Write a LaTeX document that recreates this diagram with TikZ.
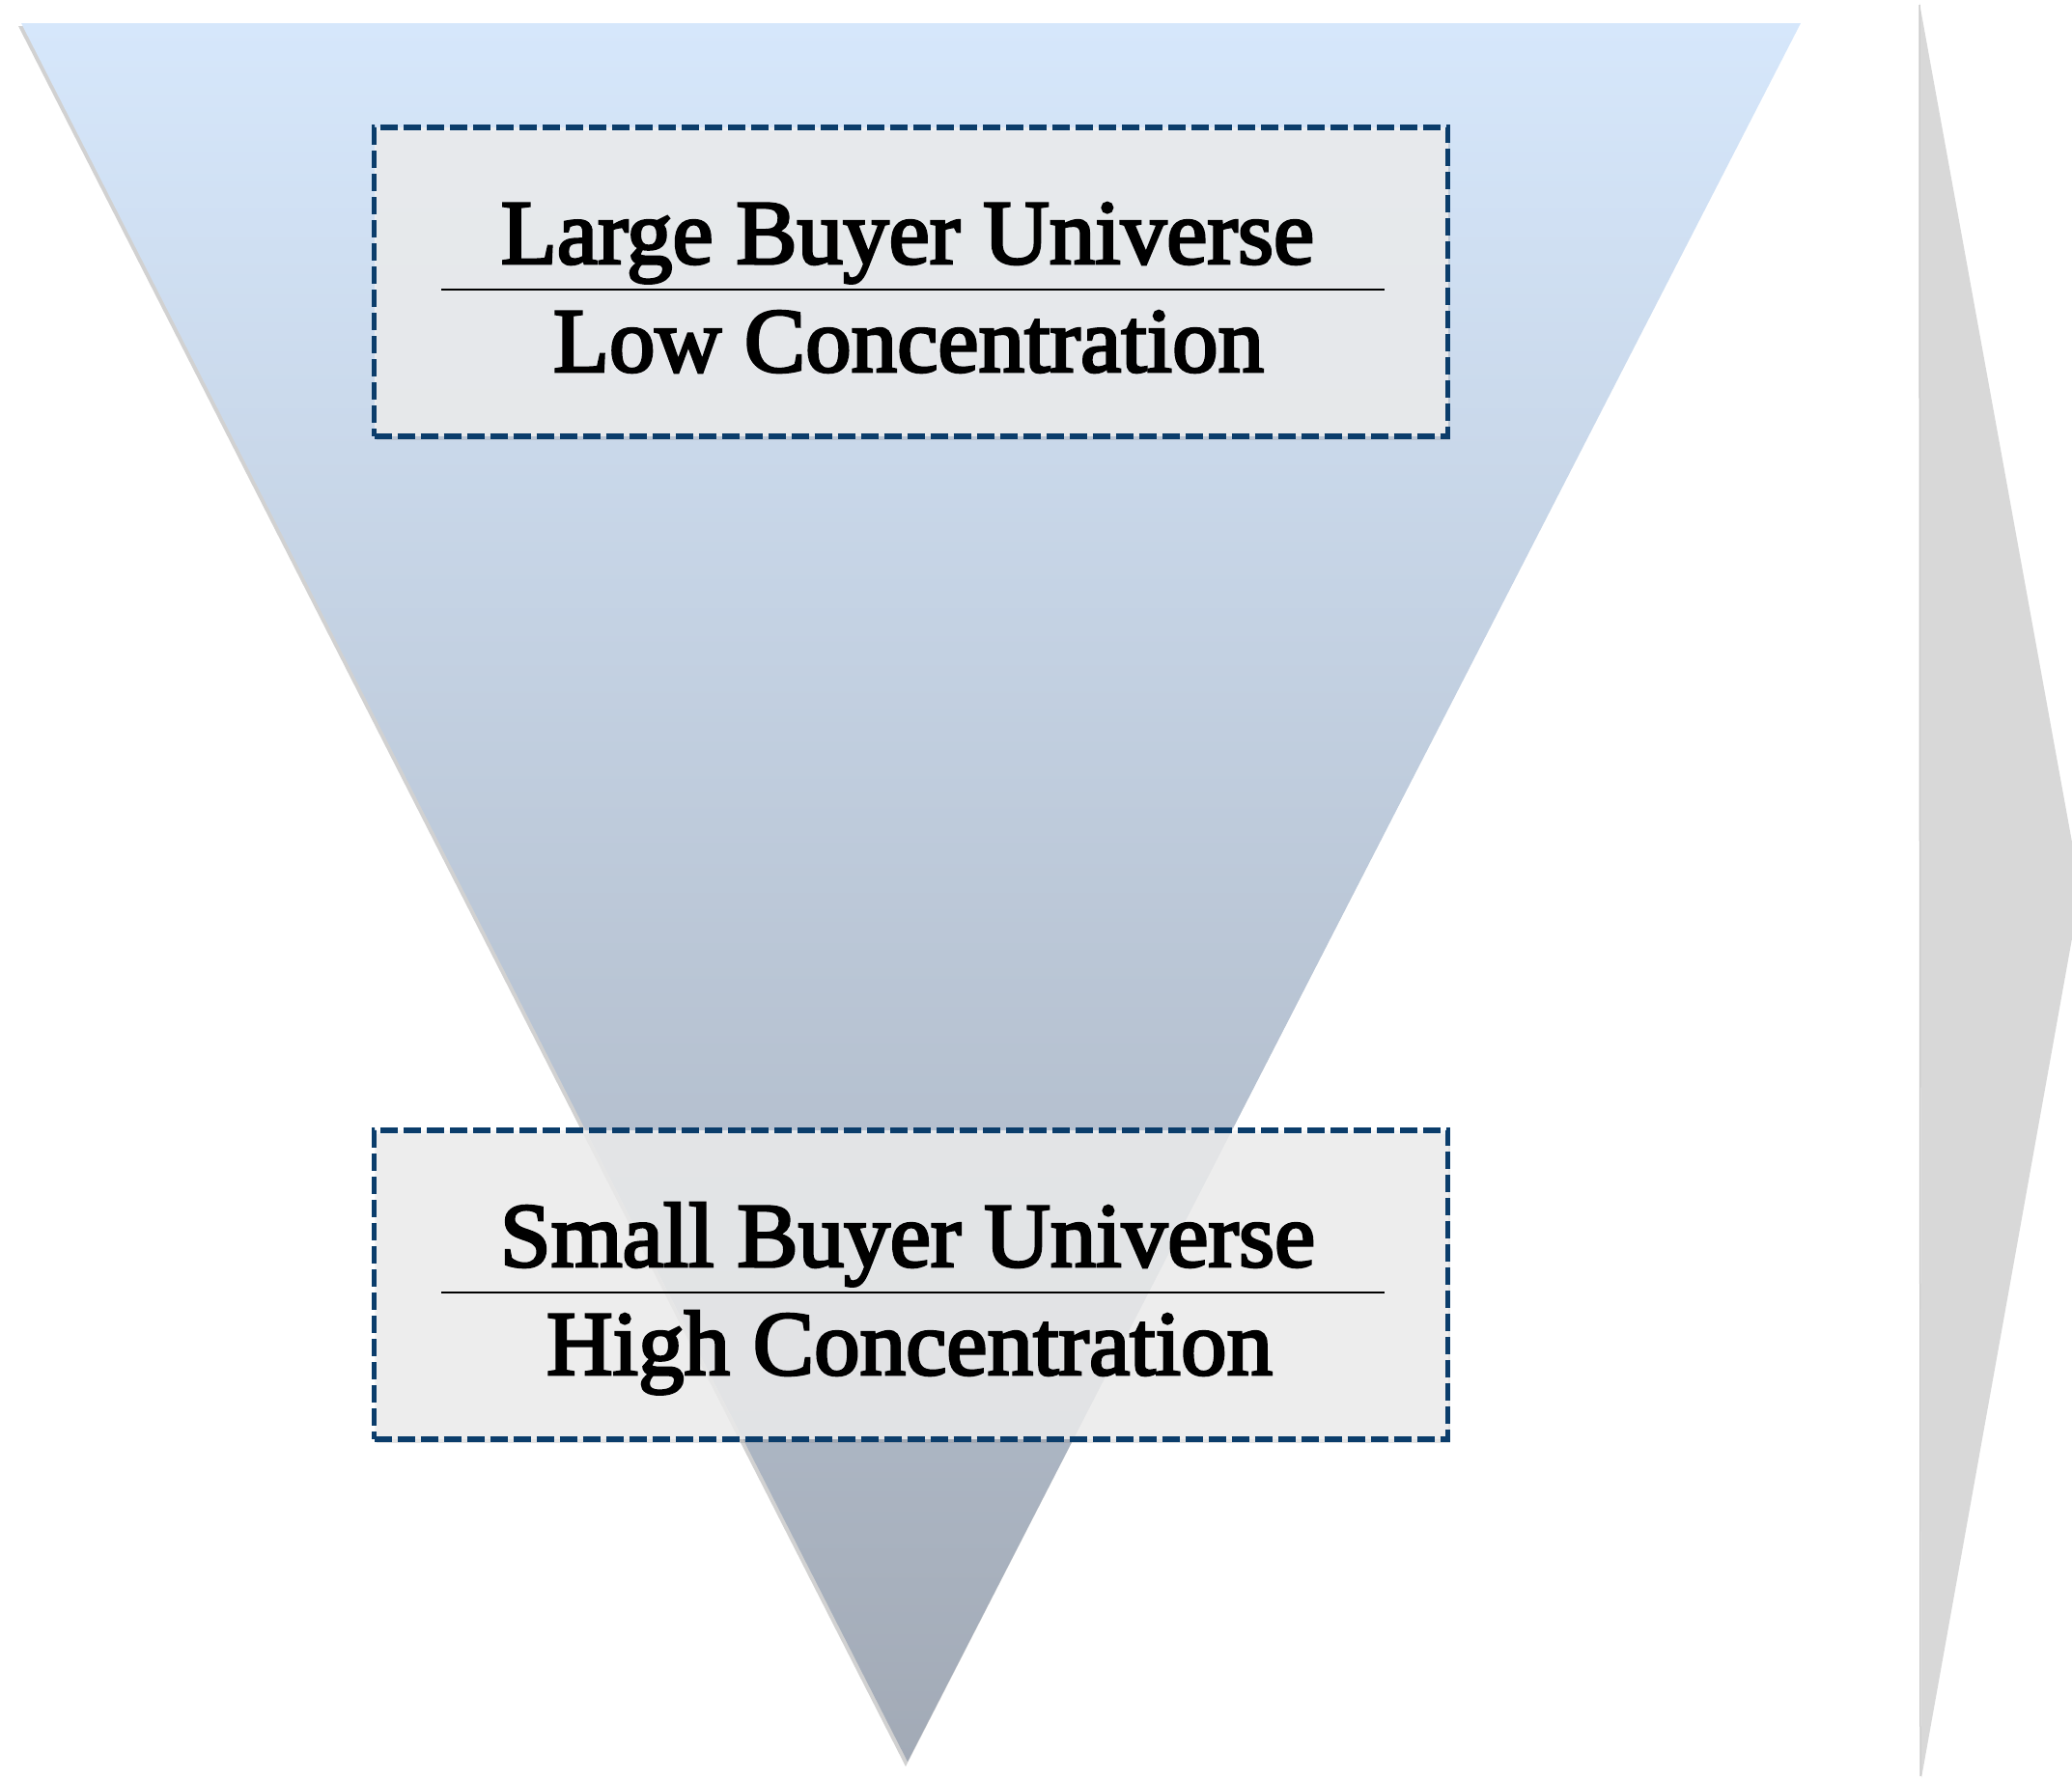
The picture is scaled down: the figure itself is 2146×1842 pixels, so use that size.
\documentclass[tikz,border=0pt]{standalone}
\usepackage{fontspec}
\setmainfont{Liberation Serif}
\newfontfamily\heavyserif[FakeBold=3]{Liberation Serif}
\usetikzlibrary{shadows}
\definecolor{boxblue}{RGB}{11,61,107}
\definecolor{funtop}{RGB}{214,231,251}
\definecolor{funmid}{RGB}{199,212,230}
\definecolor{funbot}{RGB}{162,170,182}
\definecolor{arrowgrey}{RGB}{216,216,216}
\definecolor{boxfill}{RGB}{240,240,240}
\tikzset{
  infobox/.style={draw=boxblue, line width=5.5pt, dash pattern=on 18pt off 6pt,
    fill=boxfill, fill opacity=0.82, draw opacity=1, inner sep=0pt,
    minimum width=1112pt, minimum height=320pt,
    drop shadow={shadow xshift=2pt, shadow yshift=-4pt, opacity=0.22}},
  lbl/.style={anchor=base, inner sep=0pt, text=black,
    font=\heavyserif\fontsize{95pt}{114pt}\selectfont},
  sepline/.style={line width=2.2pt, black}
}
\begin{document}
\begin{tikzpicture}[x=1pt,y=-1pt]
\useasboundingbox (0,0) rectangle (2146,1842);
% grey side arrow
\fill[arrowgrey] (1988,3) -- (2155,922) -- (1990,1842) -- cycle;
\draw[line width=1.5pt, black!20] (1988,5) -- (1989,1840);
% funnel shadow
\fill[black, opacity=0.18] (19,27) -- (1862,27) -- (938,1830) -- cycle;
% funnel
\shade[top color=funtop, middle color=funmid, bottom color=funbot]
  (22,24) -- (1865,24) -- (940,1825) -- cycle;
% boxes
\node[infobox] (topbox) at (943.5,292) {};
\node[infobox] (botbox) at (943.5,1331) {};
% texts
\node[lbl] (t1) at (940,273) {Large Buyer Universe};
\node[lbl] (t2) at (941,385) {Low Concentration};
\draw[sepline] (457,300) -- (1434,300);
\node[lbl] (b1) at (940,1312) {Small Buyer Universe};
\node[lbl] (b2) at (942,1424) {High Concentration};
\draw[sepline] (457,1339) -- (1434,1339);
\end{tikzpicture}
\end{document}
